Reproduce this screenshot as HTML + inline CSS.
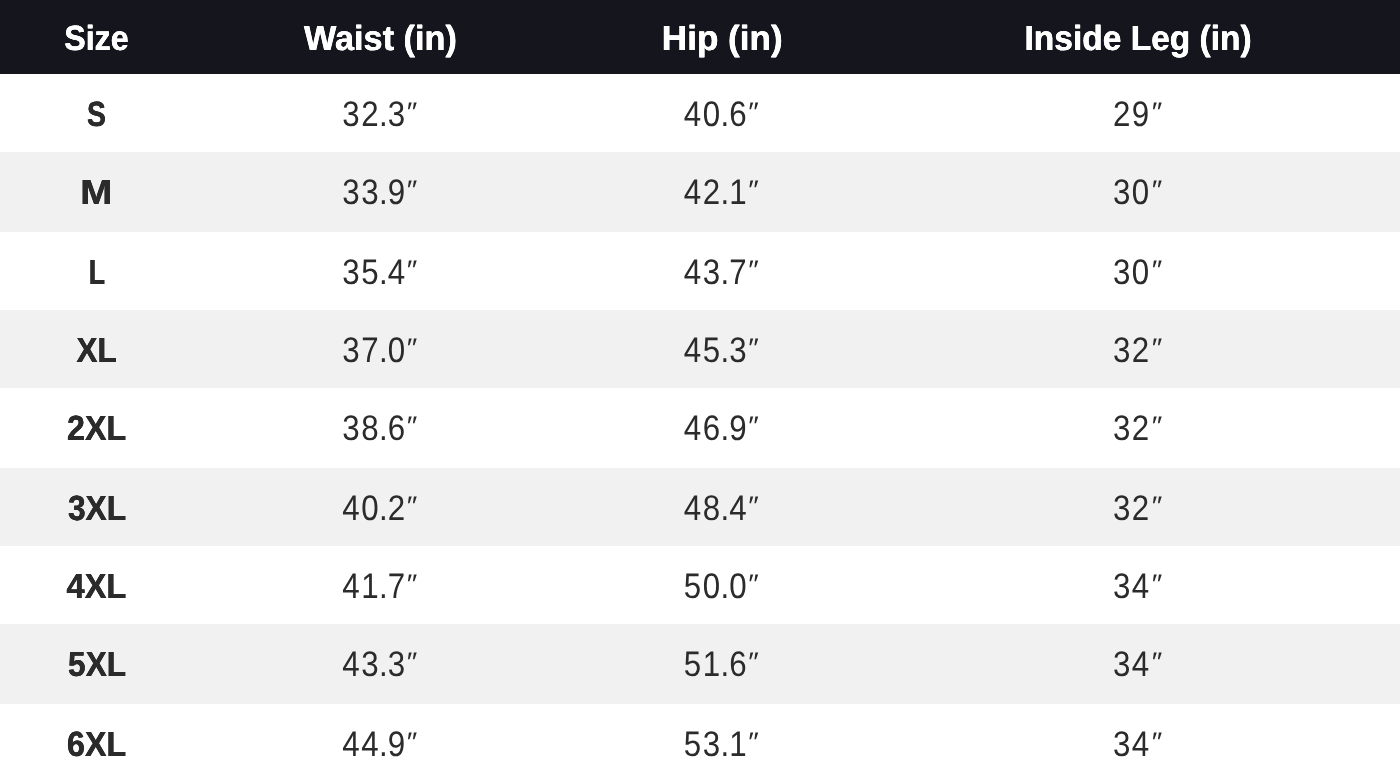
<!DOCTYPE html>
<html lang="en">
<head>
<meta charset="utf-8">
<title>Size Chart</title>
<style>
  html, body { margin: 0; padding: 0; }
  body {
    width: 1400px; height: 782px; overflow: hidden; background: #ffffff;
    font-family: "Liberation Sans", sans-serif; color: #2b2b2b;
  }
  .chart { position: relative; width: 1400px; height: 782px; overflow: hidden; }
  .row { position: absolute; left: 0; width: 1400px; }
  .row.alt { background: #f1f1f1; }
  .head { top: 0; height: 74px; background: #15151e; color: #ffffff; }
  .cell {
    position: absolute; top: 0; height: 100%;
    display: flex; align-items: flex-start; justify-content: center;
    white-space: nowrap; font-size: 35px; line-height: 40px; padding-top: 20px; box-sizing: border-box;
  }
  .c1 { left: 0; width: 193px; font-weight: 700; }
  .c2 { left: 193px; width: 374px; }
  .c3 { left: 567px; width: 310px; }
  .c4 { left: 877px; width: 523px; }
  .head .cell { font-weight: 700; padding-top: 18px; }
  .cell span { display: inline-block; transform-origin: 50% 50%; --k: 1; --dx: 0; transform: matrix(var(--k), 0, 0.0005, 1, var(--dx), 0); }
  .c2, .c3, .c4 { font-size: 35.5px; }
  .row:not(.head) .c2 > span, .row:not(.head) .c3 > span, .row:not(.head) .c4 > span { --k: 0.882; letter-spacing: 1.65px; }
  .row:not(.head) .c2 > span { --dx: -0.6; }
  .row:not(.head) .c3 > span { --dx: -1.1; }
  .row:not(.head) .c4 > span { --dx: -1.3; }
  .cell span i { font-style: normal; display: inline-block; margin: 0 -1.4px; }
  .cell span b { font-weight: 400; display: inline-block; font-size: 27px; line-height: 1; letter-spacing: 0; transform: scaleX(1.25); transform-origin: 0 50%; position: relative; top: -4.9px; margin-left: 0.4px; margin-right: 1px; }
  .c4 span b { margin-left: 1.4px; }
  .head .cell { font-size: 35px; }
  .c1 > span, .head .cell > span { text-shadow: 0.25px 0 0 currentColor, -0.25px 0 0 currentColor; }
</style>
</head>
<body>
<div class="chart">
  <div class="row head">
    <div class="cell c1"><span style="--k:0.9199;--dx:0.39">Size</span></div>
    <div class="cell c2"><span style="--k:0.9798;--dx:0.3">Waist (in)</span></div>
    <div class="cell c3"><span style="--k:1.003;--dx:-0.02">Hip (in)</span></div>
    <div class="cell c4"><span style="--k:0.9577;--dx:-0.54">Inside Leg (in)</span></div>
  </div>
  <div class="row" style="top:74px;height:78px">
    <div class="cell c1"><span style="--k:0.8092;--dx:-0.26">S</span></div>
    <div class="cell c2"><span>32<i>.</i>3<b>″</b></span></div>
    <div class="cell c3"><span>40<i>.</i>6<b>″</b></span></div>
    <div class="cell c4"><span>29<b>″</b></span></div>
  </div>
  <div class="row alt" style="top:152px;height:80px">
    <div class="cell c1"><span style="--k:1.098;--dx:-0.32">M</span></div>
    <div class="cell c2"><span>33<i>.</i>9<b>″</b></span></div>
    <div class="cell c3"><span>42<i>.</i>1<b>″</b></span></div>
    <div class="cell c4"><span>30<b>″</b></span></div>
  </div>
  <div class="row" style="top:232px;height:78px">
    <div class="cell c1"><span style="--k:0.7577;--dx:0.22">L</span></div>
    <div class="cell c2"><span>35<i>.</i>4<b>″</b></span></div>
    <div class="cell c3"><span>43<i>.</i>7<b>″</b></span></div>
    <div class="cell c4"><span>30<b>″</b></span></div>
  </div>
  <div class="row alt" style="top:310px;height:78px">
    <div class="cell c1"><span style="--k:0.8971;--dx:0.29">XL</span></div>
    <div class="cell c2"><span>37<i>.</i>0<b>″</b></span></div>
    <div class="cell c3"><span>45<i>.</i>3<b>″</b></span></div>
    <div class="cell c4"><span>32<b>″</b></span></div>
  </div>
  <div class="row" style="top:388px;height:80px">
    <div class="cell c1"><span style="--k:0.9208;--dx:0.47">2XL</span></div>
    <div class="cell c2"><span>38<i>.</i>6<b>″</b></span></div>
    <div class="cell c3"><span>46<i>.</i>9<b>″</b></span></div>
    <div class="cell c4"><span>32<b>″</b></span></div>
  </div>
  <div class="row alt" style="top:468px;height:78px">
    <div class="cell c1"><span style="--k:0.9083;--dx:0.97">3XL</span></div>
    <div class="cell c2"><span>40<i>.</i>2<b>″</b></span></div>
    <div class="cell c3"><span>48<i>.</i>4<b>″</b></span></div>
    <div class="cell c4"><span>32<b>″</b></span></div>
  </div>
  <div class="row" style="top:546px;height:78px">
    <div class="cell c1"><span style="--k:0.9294;--dx:0.33">4XL</span></div>
    <div class="cell c2"><span>41<i>.</i>7<b>″</b></span></div>
    <div class="cell c3"><span>50<i>.</i>0<b>″</b></span></div>
    <div class="cell c4"><span>34<b>″</b></span></div>
  </div>
  <div class="row alt" style="top:624px;height:80px">
    <div class="cell c1"><span style="--k:0.9036;--dx:1">5XL</span></div>
    <div class="cell c2"><span>43<i>.</i>3<b>″</b></span></div>
    <div class="cell c3"><span>51<i>.</i>6<b>″</b></span></div>
    <div class="cell c4"><span>34<b>″</b></span></div>
  </div>
  <div class="row" style="top:704px;height:78px">
    <div class="cell c1"><span style="--k:0.9198;--dx:0.52">6XL</span></div>
    <div class="cell c2"><span>44<i>.</i>9<b>″</b></span></div>
    <div class="cell c3"><span>53<i>.</i>1<b>″</b></span></div>
    <div class="cell c4"><span>34<b>″</b></span></div>
  </div>
</div>
</body>
</html>
